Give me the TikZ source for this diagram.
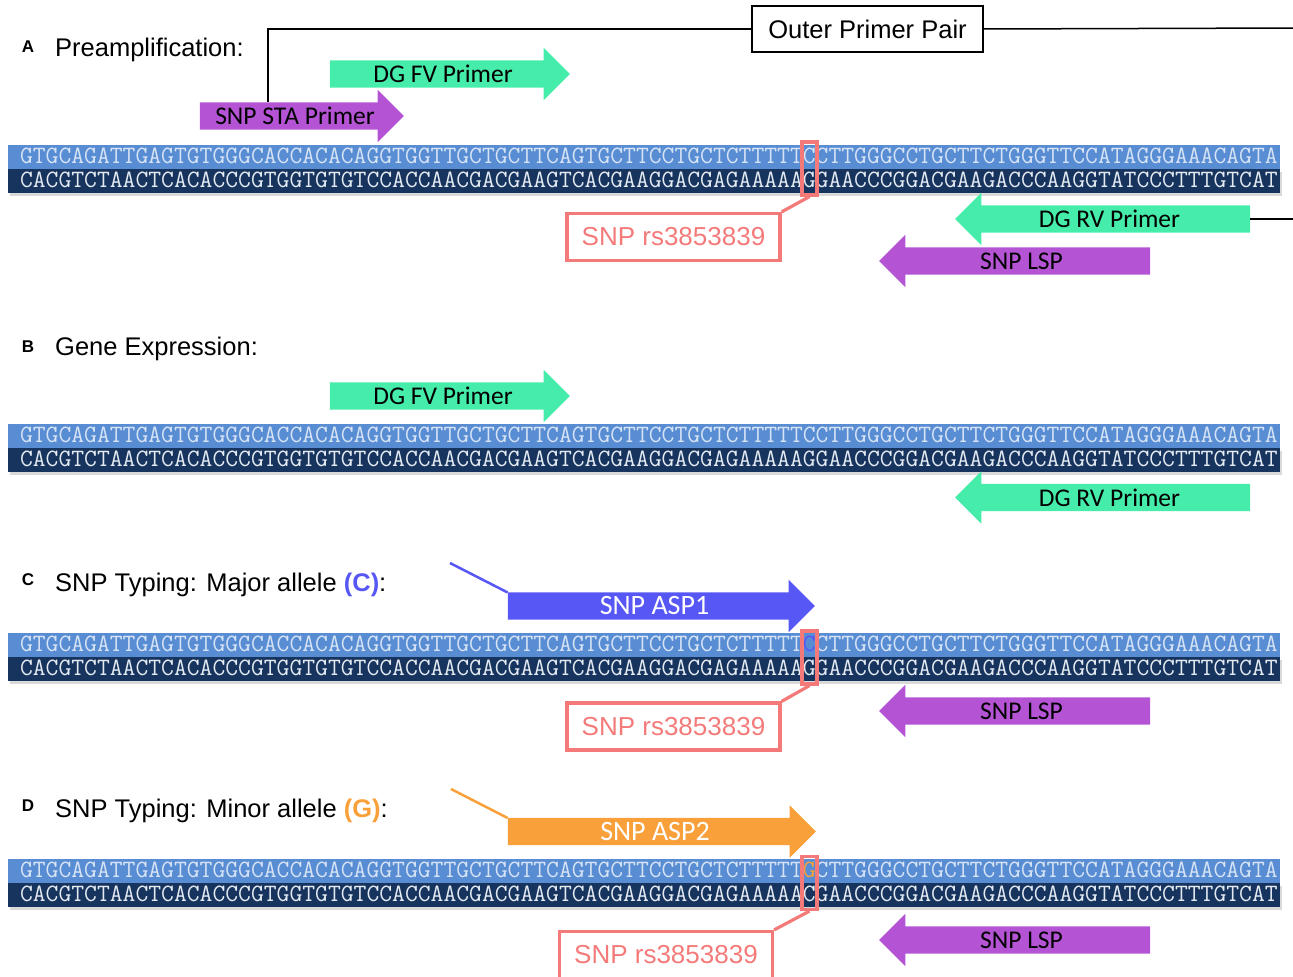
\documentclass[tikz,border=0pt]{standalone}
\usepackage{fontspec}
\setmainfont{Liberation Sans}
\newfontfamily\primerfont{Carlito}
\usetikzlibrary{shapes.arrows,positioning,shadows}
\definecolor{strandlight}{RGB}{88,141,212}
\definecolor{stranddark}{RGB}{22,52,94}
\definecolor{seqlight}{RGB}{214,227,245}
\definecolor{seqwhite}{RGB}{228,234,242}
\definecolor{primergreen}{RGB}{70,236,170}
\definecolor{primerpurple}{RGB}{180,84,212}
\definecolor{aspblue}{RGB}{87,87,246}
\definecolor{asporange}{RGB}{250,160,58}
\definecolor{snpred}{RGB}{244,122,122}
\newcommand{\topL}{GTGCAGATTGAGTGTGGGCACCACACAGGTGGTTGCTGCTTCAGTGCTTCCTGCTCTTTTT}
\newcommand{\topR}{CTTGGGCCTGCTTCTGGGTTCCATAGGGAAACAGTA}
\newcommand{\botL}{CACGTCTAACTCACACCCGTGGTGTGTCCACCAACGACGAAGTCACGAAGGACGAGAAAAA}
\newcommand{\botR}{GAACCCGGACGAAGACCCAAGGTATCCCTTTGTCAT}
\newcommand{\seqsize}{\fontsize{24.92}{25}\selectfont}
\newcommand{\snplw}{3.2pt}

\begin{document}
\begin{tikzpicture}[x=1pt,y=-1pt]
    \tikzset{
        panel/.style={font=\bfseries\fontsize{17}{17}\selectfont, inner sep=0pt},
        title/.style={font=\fontsize{25.5}{26}\selectfont, anchor=west, inner sep=0pt},
        strandtop/.style={rectangle, fill=strandlight, inner sep=0pt, minimum width=1272pt, minimum height=24pt},
        strandbot/.style={rectangle, fill=stranddark, inner sep=0pt, minimum width=1272pt, minimum height=24pt,
            drop shadow={shadow xshift=1.5pt, shadow yshift=-3pt, opacity=0.3}},
        seqtop/.style={font=\ttfamily\seqsize, text=seqlight, inner sep=0pt, text height=13pt, text depth=0pt},
        seqbot/.style={font=\ttfamily\seqsize, text=seqwhite, inner sep=0pt, text height=13pt, text depth=0pt},
        primer/.style={single arrow, single arrow head extend=12.5pt, inner xsep=2pt, inner ysep=5pt,
            text height=17pt, text depth=0pt, font=\primerfont\fontsize{25.5}{26}\selectfont},
        fwd/.style={primer},
        rev/.style={primer, shape border rotate=180},
        aspfont/.style={text=white, font=\primerfont\fontsize{28}{28}\selectfont},
        snpbox/.style={draw=snpred, line width=\snplw, minimum width=15pt, minimum height=53pt, inner sep=0pt},
        snplabel/.style={draw=snpred, line width=\snplw, text=snpred, minimum width=213pt, minimum height=47pt,
            inner sep=0pt, font=\fontsize{26}{26}\selectfont},
        snpline/.style={draw=snpred, line width=\snplw},
        outerbox/.style={draw, line width=1.5pt, minimum width=231pt, minimum height=46pt, inner sep=0pt,
            font=\fontsize{25.5}{26}\selectfont},
        outerline/.style={draw, line width=1.5pt}
    }
    \useasboundingbox (0,0) rectangle (1293,977);
    %\draw[help lines] (0,0) grid[step=50] (1293,977);

    % A
    \node[panel] (pA) at (28,47) {A};
    \node[title] (tA) at (55,50) {Preamplification:};
    \node[outerbox] (outer) at (867.5,29) {Outer Primer Pair};
    \node[fwd, fill=primergreen, minimum height=240pt] (fvA) at (443,74) {DG FV Primer};
    \node[fwd, fill=primerpurple, minimum height=204pt] (staA) at (295,116) {SNP STA Primer};
    \node[strandtop] (sA1) at (644,156.5) {};
    \node[strandbot] (sA2) at (644,180.5) {};
    \node[seqtop, right=12pt of sA1.west] (qA1) {\topL C\topR};
    \node[seqbot, right=12pt of sA2.west] (qA2) {\botL G\botR};
    \node[snpbox] (snpA) at (809.5,168.5) {};
    \node[snplabel] (lblA) at (673.5,237) {SNP rs3853839};
    \node[rev, fill=primergreen, minimum height=295pt] (rvA) at (1109.5,219) {DG RV Primer};
    \node[rev, fill=primerpurple, minimum height=271pt] (lspA) at (1021.5,261) {SNP LSP};
    \coordinate (staIn) at (268,102);
    \coordinate (edgeTop) at (1293,28);
    \coordinate (edgeRV) at (1293,219);
    \draw[outerline] (outer.west) -| (staIn);
    \draw[outerline] (outer.east) -- (edgeTop);
    \draw[outerline] (rvA.tail) -- (edgeRV);
    \draw[snpline] (snpA.south) -- (lblA.north east);

    % B
    \node[panel] (pB) at (28,347) {B};
    \node[title] (tB) at (55,349) {Gene Expression:};
    \node[fwd, fill=primergreen, minimum height=240pt] (fvB) at (443,396) {DG FV Primer};
    \node[strandtop] (sB1) at (644,435.5) {};
    \node[strandbot] (sB2) at (644,459.5) {};
    \node[seqtop, right=12pt of sB1.west] (qB1) {\topL C\topR};
    \node[seqbot, right=12pt of sB2.west] (qB2) {\botL G\botR};
    \node[rev, fill=primergreen, minimum height=295pt] (rvB) at (1109.5,497.5) {DG RV Primer};

    % C
    \node[panel] (pC) at (28,580) {C};
    \node[title] (tC) at (55,585) {SNP Typing: Major allele \textcolor{aspblue}{\bfseries (C)}:};
    \node[fwd, fill=aspblue, aspfont, minimum height=307pt] (asp1) at (654.5,606) {SNP ASP1};
    \coordinate (tailC) at (450,563);
    \draw[line width=2.5pt, aspblue] (tailC) -- ([yshift=13.5pt]asp1.tail);
    \node[strandtop] (sC1) at (644,645) {};
    \node[strandbot] (sC2) at (644,669) {};
    \node[seqtop, right=12pt of sC1.west] (qC1) {\topL\textcolor{aspblue}{C}\topR};
    \node[seqbot, right=12pt of sC2.west] (qC2) {\botL G\botR};
    \node[snpbox] (snpC) at (809.5,657.5) {};
    \node[snplabel] (lblC) at (673.5,726.5) {SNP rs3853839};
    \draw[snpline] (snpC.south) -- (lblC.north east);
    \node[rev, fill=primerpurple, minimum height=271pt] (lspC) at (1021.5,711) {SNP LSP};

    % D
    \node[panel] (pD) at (28,806) {D};
    \node[title] (tD) at (55,811) {SNP Typing: Minor allele \textcolor{asporange}{\bfseries (G)}:};
    \node[fwd, fill=asporange, aspfont, minimum height=308pt] (asp2) at (655,831.5) {SNP ASP2};
    \coordinate (tailD) at (451,789);
    \draw[line width=2.5pt, asporange] (tailD) -- ([yshift=13.5pt]asp2.tail);
    \node[strandtop] (sD1) at (644,871) {};
    \node[strandbot] (sD2) at (644,895) {};
    \node[seqtop, right=12pt of sD1.west] (qD1) {\topL\textcolor{asporange}{G}\topR};
    \node[seqbot, right=12pt of sD2.west] (qD2) {\botL C\botR};
    \node[snpbox] (snpD) at (809.5,883) {};
    \node[snplabel] (lblD) at (666,955) {SNP rs3853839};
    \draw[snpline] (snpD.south) -- (lblD.north east);
    \node[rev, fill=primerpurple, minimum height=271pt] (lspD) at (1021.5,940) {SNP LSP};
\end{tikzpicture}
\end{document}
